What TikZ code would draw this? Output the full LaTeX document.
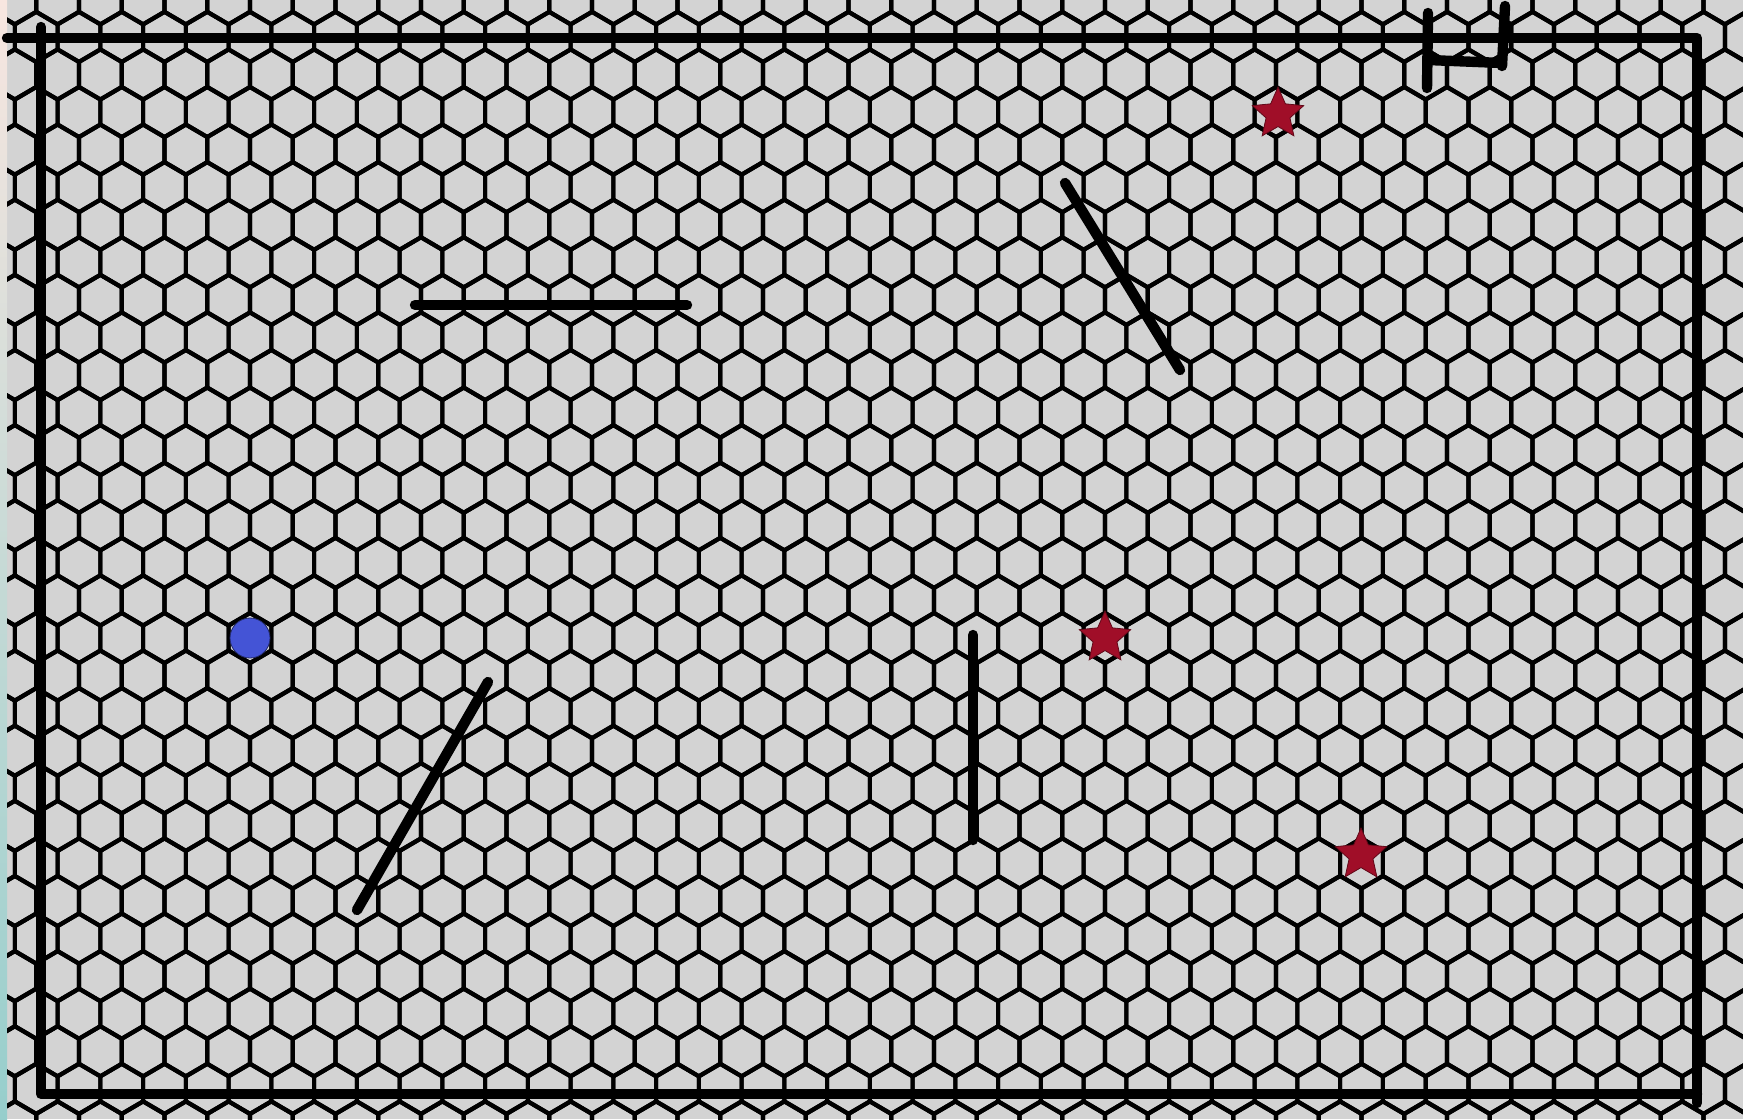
\documentclass[tikz,border=0pt]{standalone}
\usepackage{tikz}
\usetikzlibrary{shapes.geometric}
\definecolor{floorgray}{RGB}{211,211,211}
\definecolor{goalred}{RGB}{160,14,40}
\definecolor{agentblue}{RGB}{68,84,214}
\definecolor{edgepink}{RGB}{248,230,224}
\definecolor{edgeteal}{RGB}{150,206,204}

\begin{document}
\begin{tikzpicture}[x=0.5pt, y=-0.5pt,
    hexline/.style={black, line width=2.1pt, line join=round},
    wall/.style={black, line width=5.2pt, line cap=round, line join=round},
    goal/.style={star, star points=5, star point ratio=2.15, draw=goalred!60!black, line width=0.4pt, fill=goalred, minimum size=27pt, inner sep=0pt},
    agent/.style={circle, draw=agentblue!50!black, line width=0.4pt, fill=agentblue, minimum size=20pt, inner sep=0pt}]
    \useasboundingbox (0,0) rectangle (1743,1119);
    % Floor
    \fill[floorgray] (0,0) rectangle (1743,1119);
    \shade[top color=edgepink, bottom color=edgeteal] (0,0) rectangle (7,1119);
    \begin{scope}
    \clip (7,0) rectangle (1743,1119);
    % Hex grid
    \foreach \k in {-18,...,13} {
      \foreach \i in {-7,...,35} {
        \pgfmathsetmacro{\cx}{250+\i*42.75+mod(abs(\k),2)*21.375}
        \pgfmathsetmacro{\cy}{638+\k*37.57}
        \draw[hexline] (\cx,\cy) ++(0,-25.05) -- ++(21.375,12.525) -- ++(0,25.05) -- ++(-21.375,12.525) -- ++(-21.375,-12.525) -- ++(0,-25.05) -- cycle;
      }
    }
    \end{scope}
    % Border
    \draw[wall] (7,38) -- (1697,38) -- (1697,1103);
    \draw[wall] (41,27) -- (41,1094) -- (1697,1094);
    % Door at the top
    \draw[wall] (1428,13) -- (1427,88);
    \draw[wall] (1505,6) -- (1502,66);
    \draw[wall] (1428,60) -- (1502,63);
    % Walls
    \draw[wall] (415,305) -- (687,305);
    \draw[wall] (1065,183) -- (1180,370);
    \draw[wall] (488,682) -- (357,910);
    \draw[wall] (973,635) -- (973,840);
    % Nodes
    \node[agent] (agent) at (250,638) {};
    \node[goal] (goalA) at (1278,114) {};
    \node[goal] (goalB) at (1105,638) {};
    \node[goal] (goalC) at (1361,855) {};
\end{tikzpicture}
\end{document}
